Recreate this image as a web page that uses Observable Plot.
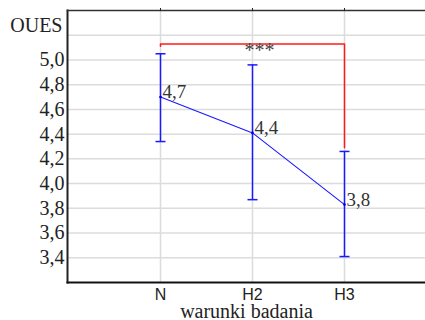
<!DOCTYPE html>
<html><head><meta charset="utf-8">
<script src="https://cdn.jsdelivr.net/npm/d3@7"></script>
<script src="https://cdn.jsdelivr.net/npm/@observablehq/plot@0.6"></script>
<style>
body{margin:0;background:#fff}
</style>
</head><body><div id="chart"></div>
<script>
const categories = ["N", "H2", "H3"];
const means = [4.70, 4.41, 3.83];
const upper = [5.05, 4.96, 4.26];
const lower = [4.34, 3.87, 3.41];
const valueLabels = ["4,7", "4,4", "3,8"];
const yTicks = [3.4, 3.6, 3.8, 4.0, 4.2, 4.4, 4.6, 4.8, 5.0];
const yGrid = [3.4, 3.6, 3.8, 4.0, 4.2, 4.4, 4.6, 4.8, 5.0, 5.2];
const bracketPath = [["N", 5.11], ["N", 5.13], ["H3", 5.13], ["H3", 4.29]];
const starsLabel = "***";
const starsAt = "H2";
const yLabel = "OUES";
const xLabel = "warunki badania";

const rows = categories.map((c, i) => ({cat: c, mean: means[i], hi: upper[i], lo: lower[i], label: valueLabels[i]}));
const caps = rows.flatMap(d => [{cat: d.cat, y: d.hi}, {cat: d.cat, y: d.lo}]);
const bracket = bracketPath.map(([cat, y]) => ({cat, y}));

const hbar = {draw(context, size) { const r = Math.sqrt(size / Math.PI); context.moveTo(-r, 0); context.lineTo(r, 0); }};
const blue = "#1a1aff";
const serif = "'Liberation Serif', 'Times New Roman', Times, 'DejaVu Serif', serif";
const sans = "'Liberation Sans', Arial, sans-serif";
const fmt = d => d.toFixed(1).replace(".", ",");

const chart = Plot.plot({
  width: 425, height: 320,
  marginLeft: 67, marginRight: 0, marginTop: 10, marginBottom: 38,
  style: {fontFamily: serif, fontSize: "20px", background: "white", color: "#222"},
  x: {type: "point", domain: categories, range: [67, 437], padding: 1},
  y: {domain: [3.2, 5.4]},
  marks: [
    Plot.gridY(yGrid, {stroke: "#dcdcdc", strokeOpacity: 1, strokeWidth: 1.5}),
    Plot.gridX({stroke: "#dcdcdc", strokeOpacity: 1, strokeWidth: 1.5}),
    Plot.frame({anchor: "left", stroke: "#222", strokeWidth: 2}),
    Plot.frame({anchor: "bottom", stroke: "#111", strokeWidth: 2}),
    Plot.frame({anchor: "top", stroke: "#333", strokeWidth: 1.5}),
    Plot.line(bracket, {x: "cat", y: "y", stroke: "#ff1a1a", strokeWidth: 1.5}),
    Plot.ruleX(rows, {x: "cat", y1: "lo", y2: "hi", stroke: blue, strokeWidth: 1.5}),
    Plot.line(rows, {x: "cat", y: "mean", stroke: blue, strokeWidth: 1.1}),
    Plot.dot(caps, {x: "cat", y: "y", symbol: hbar, r: 5, stroke: blue, strokeWidth: 1.5}),
    Plot.dot(rows, {x: "cat", y: "mean", r: 1.3, fill: "#0000cc", stroke: null}),
    Plot.text(rows, {x: "cat", y: "mean", text: "label", textAnchor: "start", lineAnchor: "bottom", dx: 2, dy: 1, fontFamily: serif, fontSize: 19, fill: "#333"}),
    Plot.text([starsLabel], {x: () => starsAt, y: () => bracketPath[1][1], textAnchor: "middle", lineAnchor: "bottom", dx: 7, dy: 13.5, fill: "#444", fontFamily: serif, fontSize: 20}),
    Plot.axisY({ticks: yTicks, tickFormat: fmt, tickSize: 0, tickPadding: 3, label: null, fill: "#222", fontFamily: serif, fontSize: 20}),
    Plot.axisX({anchor: "bottom", tickSize: 0, tickPadding: 6, label: null, fontFamily: sans, fontSize: 16, fill: "#222"}),
    Plot.axisX({anchor: "top", tickSize: 3, tickFormat: () => "", label: null, stroke: "#222"}),
    Plot.text([yLabel], {frameAnchor: "top-left", textAnchor: "end", lineAnchor: "bottom", dx: -5, dy: 21.5, fill: "#222", fontFamily: serif, fontSize: 20}),
    Plot.text([xLabel], {frameAnchor: "bottom", textAnchor: "middle", lineAnchor: "bottom", dy: 35, fill: "#222", fontFamily: serif, fontSize: 20})
  ]
});
document.getElementById("chart").appendChild(chart);
</script>
</body></html>
